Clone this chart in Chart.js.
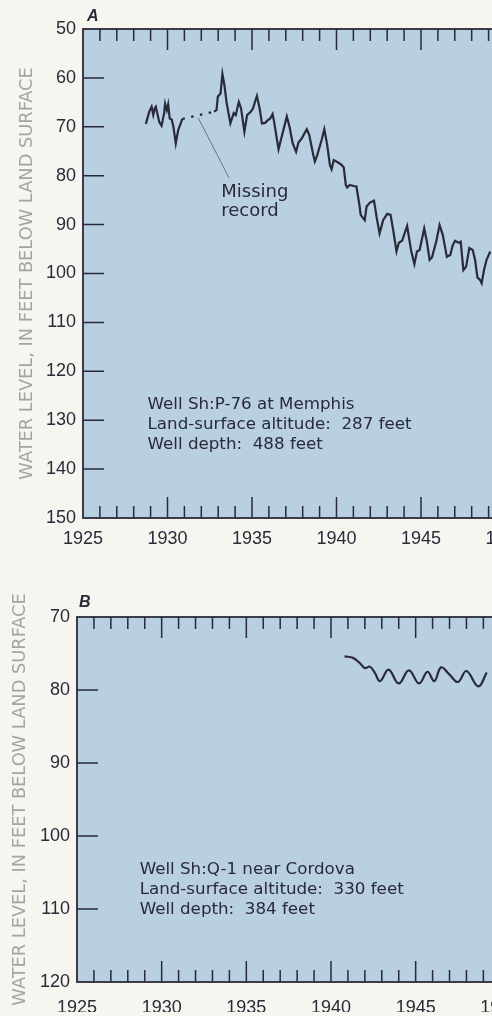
<!DOCTYPE html>
<html>
<head>
<meta charset="utf-8">
<script src="https://cdn.jsdelivr.net/npm/chart.js@4.4.1/dist/chart.umd.min.js"></script>
<style>
  html, body { margin: 0; padding: 0; }
  body { width: 492px; height: 1016px; overflow: hidden; background: #f7f5ef; position: relative; }
  canvas { position: absolute; left: 0; }
  #wellA { top: 0; }
  #wellB { top: 560px; }
</style>
</head>
<body>
<canvas id="wellA" width="620" height="560"></canvas>
<canvas id="wellB" width="620" height="456"></canvas>
<script>
const yearTicks = [1925, 1930, 1935, 1940, 1945, 1950, 1955]
const levelTicksA = [50, 60, 70, 80, 90, 100, 110, 120, 130, 140, 150]
const levelTicksB = [70, 80, 90, 100, 110, 120]

// well Sh:P-76, record before the gap
const yearsA1 = [1928.72, 1928.92, 1929.06, 1929.16, 1929.25, 1929.31, 1929.51, 1929.65, 1929.80, 1929.86,
    1929.96, 1930.04, 1930.13, 1930.25, 1930.35, 1930.49, 1930.63, 1930.75, 1930.88]
const levelsA1 = [69.4, 66.9, 65.9, 67.6, 66.2, 65.9, 69.0, 69.8, 67.2, 65.3,
    66.6, 65.4, 68.3, 68.5, 70.0, 73.4, 70.7, 69.6, 68.4]

// missing record, drawn dotted
const yearsGap = [1930.88, 1932.75]
const levelsGap = [68.4, 66.9]

// well Sh:P-76, record after the gap
const yearsA2 = [1932.75, 1932.90, 1932.98, 1933.14, 1933.25, 1933.37, 1933.49, 1933.72, 1933.92, 1934.04,
    1934.22, 1934.35, 1934.55, 1934.71, 1934.94, 1935.06, 1935.29, 1935.45, 1935.59, 1935.78,
    1935.92, 1936.08, 1936.22, 1936.31, 1936.57, 1936.76, 1936.96, 1937.06, 1937.22, 1937.41,
    1937.61, 1937.75, 1937.94, 1938.24, 1938.39, 1938.63, 1938.72, 1938.86, 1939.12, 1939.28,
    1939.45, 1939.61, 1939.71, 1939.84, 1940.10, 1940.30, 1940.43, 1940.55, 1940.63, 1940.78,
    1941.02, 1941.18, 1941.37, 1941.43, 1941.67, 1941.78, 1941.98, 1942.22, 1942.37, 1942.55,
    1942.76, 1943.00, 1943.20, 1943.35, 1943.55, 1943.69, 1943.88, 1944.18, 1944.41, 1944.61,
    1944.76, 1944.92, 1945.19, 1945.35, 1945.51, 1945.65, 1945.90, 1946.10, 1946.29, 1946.53,
    1946.73, 1946.88, 1947.02, 1947.22, 1947.35, 1947.51, 1947.67, 1947.86, 1948.06, 1948.20,
    1948.34, 1948.49, 1948.59, 1948.73, 1948.88, 1949.10]
const levelsA2 = [66.9, 66.6, 63.8, 63.2, 59.2, 61.5, 64.9, 69.3, 67.2, 67.6,
    64.9, 66.2, 71.0, 67.6, 66.9, 66.2, 63.7, 66.2, 69.3, 69.2,
    68.7, 68.3, 67.4, 69.0, 74.6, 72.0, 69.3, 67.9, 70.0, 73.4,
    75.1, 73.2, 72.4, 70.5, 71.7, 75.8, 77.1, 75.8, 72.7, 70.5,
    73.7, 77.8, 78.7, 76.8, 77.3, 77.8, 78.3, 81.9, 82.4, 81.9,
    82.1, 82.2, 86.3, 88.0, 89.1, 86.3, 85.5, 85.1, 88.4, 91.8,
    89.1, 87.8, 88.0, 91.0, 95.5, 93.7, 93.3, 90.3, 95.2, 98.1,
    95.5, 95.2, 90.8, 93.5, 97.2, 96.7, 93.5, 90.1, 92.1, 96.6,
    96.2, 94.2, 93.3, 93.7, 93.5, 99.3, 98.6, 94.8, 95.2, 97.2,
    100.8, 101.3, 102.0, 99.3, 97.2, 95.5]

// well Sh:Q-1
const yearsB = [1940.8, 1941.3, 1941.7, 1942.0, 1942.3, 1942.6, 1942.9, 1943.4, 1944.0, 1944.6,
    1945.2, 1945.7, 1946.1, 1946.5, 1947.0, 1947.5, 1948.0, 1948.7, 1949.2]
const levelsB = [75.4, 75.6, 76.3, 77.0, 76.8, 77.7, 78.8, 77.2, 79.1, 77.3,
    79.1, 77.5, 78.8, 76.9, 77.9, 78.9, 77.4, 79.5, 77.6]

const notesA = ['Well Sh:P-76 at Memphis', 'Land-surface altitude:  287 feet', 'Well depth:  488 feet']
const notesB = ['Well Sh:Q-1 near Cordova', 'Land-surface altitude:  330 feet', 'Well depth:  384 feet']
const axisTitle = 'WATER LEVEL, IN FEET BELOW LAND SURFACE'

const ink = '#2a2a38'
const paper = '#b9cfe2'

function pairs(xs, ys) {
    return xs.map((x, i) => ({x: x, y: ys[i]}))
}

function lineSet(points, tension) {
    return {
        data: points,
        borderColor: ink,
        borderWidth: 2.2,
        pointRadius: 0,
        tension: tension,
        fill: false
    }
}

function yearAxis(pad) {
    return {
        type: 'linear',
        min: yearTicks[0],
        max: yearTicks[yearTicks.length - 1],
        afterBuildTicks: s => { s.ticks = yearTicks.map(v => ({value: v})) },
        afterFit: s => { s.height = 30 },
        grid: {display: false, drawTicks: false},
        border: {display: false},
        ticks: {
            padding: pad, color: ink, maxRotation: 0, autoSkip: false,
            font: {family: 'Liberation Sans', size: 18},
            callback: v => String(v)
        }
    }
}

function levelAxis(ticks, width) {
    return {
        type: 'linear',
        reverse: true,
        min: ticks[0],
        max: ticks[ticks.length - 1],
        afterBuildTicks: s => { s.ticks = ticks.map(v => ({value: v})) },
        afterFit: s => { s.width = width },
        grid: {display: false, drawTicks: false},
        border: {display: false},
        ticks: {padding: 7, color: ink, autoSkip: false, font: {family: 'Liberation Sans', size: 18}}
    }
}

// background, inward tick marks, frame and the printed notes
function makeFrame(set) {
    return {
        id: 'frame' + set.letter,
        beforeDatasetsDraw(chart) {
            const {ctx, chartArea: a} = chart
            ctx.save()
            ctx.fillStyle = paper
            ctx.fillRect(a.left, a.top, a.right - a.left, a.bottom - a.top)
            ctx.restore()
        },
        afterDatasetsDraw(chart) {
            const {ctx, chartArea: a, scales: {x, y}} = chart
            ctx.save()
            ctx.strokeStyle = ink
            ctx.lineWidth = 1.8
            ctx.strokeRect(a.left, a.top, a.right - a.left, a.bottom - a.top)
            ctx.lineWidth = 1.5
            ctx.beginPath()
            for (let yr = x.min + 1; yr < x.max; yr++) {
                const px = x.getPixelForValue(yr)
                const len = yr % 5 === 0 ? 21 : 12
                ctx.moveTo(px, a.top)
                ctx.lineTo(px, a.top + len)
                ctx.moveTo(px, a.bottom)
                ctx.lineTo(px, a.bottom - len)
            }
            y.ticks.forEach(t => {
                if (t.value === y.min || t.value === y.max) return
                const py = y.getPixelForValue(t.value)
                ctx.moveTo(a.left, py)
                ctx.lineTo(a.left + 21, py)
            })
            ctx.stroke()

            ctx.fillStyle = ink
            ctx.font = 'italic bold 16px "Liberation Sans"'
            ctx.fillText(set.letter, a.left + set.letterDx, a.top + set.letterDy)

            ctx.save()
            ctx.translate(set.titleX, (a.top + a.bottom) / 2)
            ctx.rotate(-Math.PI / 2)
            ctx.fillStyle = '#a4a4a6'
            ctx.font = '17.8px "DejaVu Sans"'
            ctx.textAlign = 'center'
            ctx.textBaseline = 'middle'
            ctx.fillText(axisTitle, 0, 0)
            ctx.restore()

            ctx.font = '16.7px "DejaVu Sans"'
            ctx.textBaseline = 'middle'
            const nx = x.getPixelForValue(set.noteAt[0])
            const ny = y.getPixelForValue(set.noteAt[1])
            set.notes.forEach((line, i) => ctx.fillText(line, nx, ny + i * 19.7))

            if (set.missingAt) {
                ctx.strokeStyle = '#70747e'
                ctx.lineWidth = 1
                ctx.beginPath()
                ctx.moveTo(x.getPixelForValue(set.leader[0]), y.getPixelForValue(set.leader[1]))
                ctx.lineTo(x.getPixelForValue(set.leader[2]), y.getPixelForValue(set.leader[3]))
                ctx.stroke()
                ctx.font = '18px "DejaVu Sans"'
                const mx = x.getPixelForValue(set.missingAt[0])
                const my = y.getPixelForValue(set.missingAt[1])
                ctx.fillText('Missing', mx, my)
                ctx.fillText('record', mx, my + 19)
            }
            ctx.restore()
        }
    }
}

const baseOptions = {
    responsive: false,
    animation: false,
    events: [],
    plugins: {legend: {display: false}, tooltip: {enabled: false}}
}

new Chart(document.getElementById('wellA'), {
    type: 'line',
    data: {
        datasets: [
            lineSet(pairs(yearsA1, levelsA1), 0),
            Object.assign(lineSet(pairs(yearsGap, levelsGap), 0), {borderDash: [2.5, 6.5]}),
            lineSet(pairs(yearsA2, levelsA2), 0)
        ]
    },
    options: Object.assign({}, baseOptions, {
        layout: {padding: {left: 0, top: 29, right: 27, bottom: 12}},
        scales: {x: yearAxis(10), y: levelAxis(levelTicksA, 83)}
    }),
    plugins: [makeFrame({
        letter: 'A', letterDx: 4, letterDy: -8, titleX: 27,
        notes: notesA, noteAt: [1928.82, 126.9],
        missingAt: [1933.18, 83.5], leader: [1931.82, 68.2, 1933.65, 80.5]
    })]
})

new Chart(document.getElementById('wellB'), {
    type: 'line',
    data: {
        datasets: [lineSet(pairs(yearsB, levelsB), 0.4)]
    },
    options: Object.assign({}, baseOptions, {
        layout: {padding: {left: 0, top: 57, right: 33, bottom: 4}},
        scales: {x: yearAxis(15), y: levelAxis(levelTicksB, 77)}
    }),
    plugins: [makeFrame({
        letter: 'B', letterDx: 2, letterDy: -10, titleX: 20,
        notes: notesB, noteAt: [1928.7, 104.66]
    })]
})
</script>
</body>
</html>
